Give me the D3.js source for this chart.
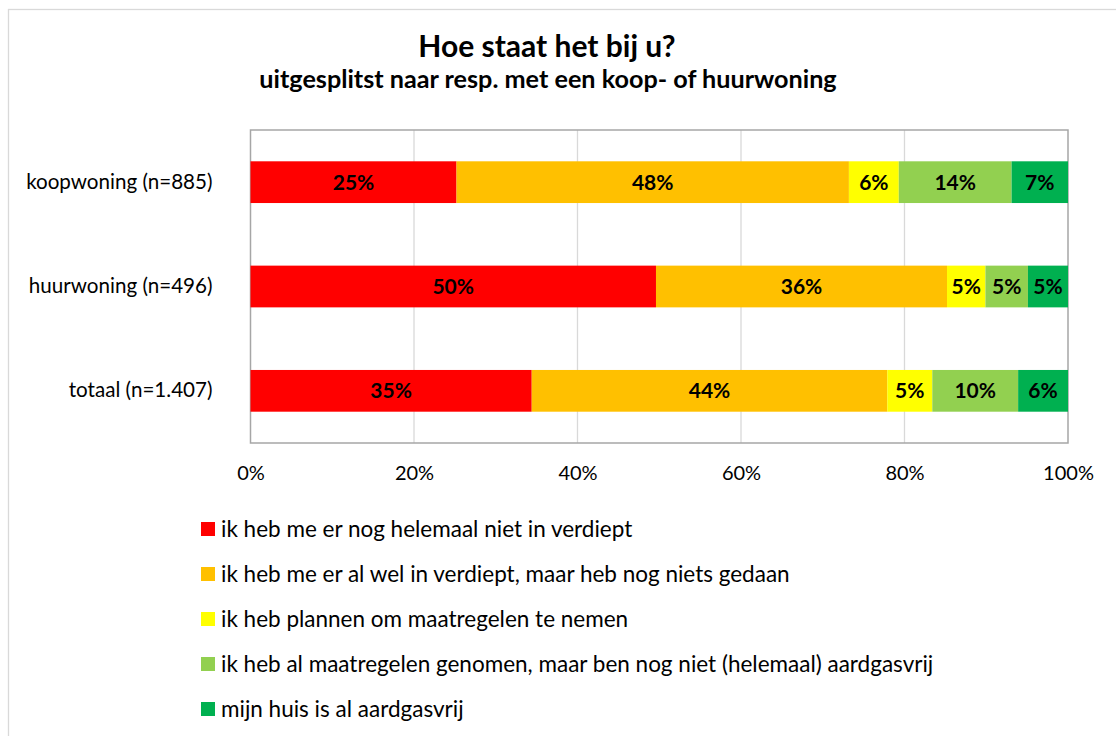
<!DOCTYPE html>
<html>
<head>
<meta charset="utf-8">
<script src="https://cdn.jsdelivr.net/npm/d3@7"></script>
<style>
  body { margin: 0; background: #fff; }
  svg { display: block; font-family: Lato, "Open Sans", sans-serif; }
  .grid line { stroke: #d9d9d9; stroke-width: 1.3; }
  .tick text { fill: #000; }
</style>
</head>
<body>
<div id="chart"></div>
<script>
  "use strict";

  // Categories, top to bottom
  var categories = ['koopwoning (n=885)', 'huurwoning (n=496)', 'totaal (n=1.407)'];

  // Answer series (legend order)
  var seriesNames = [
    'ik heb me er nog helemaal niet in verdiept',
    'ik heb me er al wel in verdiept, maar heb nog niets gedaan',
    'ik heb plannen om maatregelen te nemen',
    'ik heb al maatregelen genomen, maar ben nog niet (helemaal) aardgasvrij',
    'mijn huis is al aardgasvrij'
  ];
  var seriesColors = ['#ff0000', '#ffc000', '#ffff00', '#92d050', '#00b050'];

  // Share per category (percent), one array per series
  var nietVerdiept = [25.2, 49.6, 34.4];
  var welVerdiept = [48.0, 35.6, 43.5];
  var plannen = [6.1, 4.7, 5.5];
  var maatregelen = [13.8, 5.2, 10.5];
  var aardgasvrij = [6.9, 4.9, 6.1];

  // Labels printed in the bars
  var labelNietVerdiept = ['25%', '50%', '35%'];
  var labelWelVerdiept = ['48%', '36%', '44%'];
  var labelPlannen = ['6%', '5%', '5%'];
  var labelMaatregelen = ['14%', '5%', '10%'];
  var labelAardgasvrij = ['7%', '5%', '6%'];

  var xTicks = [0, 20, 40, 60, 80, 100];

  var seriesValues = [nietVerdiept, welVerdiept, plannen, maatregelen, aardgasvrij];
  var seriesLabels = [labelNietVerdiept, labelWelVerdiept, labelPlannen, labelMaatregelen, labelAardgasvrij];

  var width = 1116, height = 736;
  var plot = { left: 250.5, right: 1068, top: 130, bottom: 443 };

  var svg = d3.select('#chart')
      .append('svg')
      .attr('width', width)
      .attr('height', height);

  // Outer chart border (only top and left visible in frame)
  svg.append('rect')
      .attr('x', 8.5)
      .attr('y', 9.5)
      .attr('width', width + 20)
      .attr('height', height + 20)
      .attr('fill', 'none')
      .attr('stroke', '#d9d9d9')
      .attr('stroke-width', 1.3);

  // Titles
  svg.append('text')
      .attr('x', 547)
      .attr('y', 57)
      .attr('text-anchor', 'middle')
      .attr('font-weight', 'bold')
      .attr('font-size', 30)
      .text('Hoe staat het bij u?');

  svg.append('text')
      .attr('x', 548)
      .attr('y', 88)
      .attr('text-anchor', 'middle')
      .attr('font-weight', 'bold')
      .attr('font-size', 25.2)
      .text('uitgesplitst naar resp. met een koop- of huurwoning');

  var x = d3.scaleLinear()
      .domain([0, 100])
      .range([plot.left, plot.right]);

  var y = d3.scaleBand()
      .domain(categories)
      .range([plot.top, plot.bottom])
      .paddingInner(0.6)
      .paddingOuter(0.3);

  // Vertical gridlines
  svg.append('g')
      .attr('class', 'grid')
      .selectAll('line')
      .data(xTicks.slice(1, -1))
      .enter()
      .append('line')
      .attr('x1', function(d) { return x(d); })
      .attr('x2', function(d) { return x(d); })
      .attr('y1', plot.top)
      .attr('y2', plot.bottom);

  // Plot area border
  svg.append('rect')
      .attr('x', plot.left)
      .attr('y', plot.top)
      .attr('width', plot.right - plot.left)
      .attr('height', plot.bottom - plot.top)
      .attr('fill', 'none')
      .attr('stroke', '#a6a6a6')
      .attr('stroke-width', 1.5);

  // Stack the series
  var rows = categories.map(function(c, i) {
    var row = { category: c };
    seriesNames.forEach(function(s, j) { row[s] = seriesValues[j][i]; });
    return row;
  });
  var stacked = d3.stack().keys(seriesNames)(rows);

  var layers = svg.append('g')
      .selectAll('g')
      .data(stacked)
      .enter()
      .append('g')
      .attr('fill', function(d, j) { return seriesColors[j]; });

  layers.selectAll('rect')
      .data(function(d) { return d; })
      .enter()
      .append('rect')
      .attr('x', function(d) { return x(d[0]); })
      .attr('y', function(d) { return y(d.data.category); })
      .attr('width', function(d) { return x(d[1]) - x(d[0]); })
      .attr('height', y.bandwidth());

  layers.selectAll('text')
      .data(function(d, j) {
        return d.map(function(p, i) { return { p: p, label: seriesLabels[j][i] }; });
      })
      .enter()
      .append('text')
      .attr('x', function(d) { return (x(d.p[0]) + x(d.p[1])) / 2; })
      .attr('y', function(d) { return y(d.p.data.category) + y.bandwidth() / 2; })
      .attr('dy', '0.36em')
      .attr('text-anchor', 'middle')
      .attr('font-weight', 'bold')
      .attr('font-size', 21)
      .attr('fill', '#000')
      .text(function(d) { return d.label; });

  // Category axis
  var yAxis = svg.append('g')
      .attr('transform', 'translate(' + plot.left + ',0)')
      .call(d3.axisLeft(y).tickSize(0).tickPadding(38));
  yAxis.select('.domain').remove();
  yAxis.selectAll('text').attr('font-size', 20.6);
  yAxis.attr('font-family', null);

  // Percent axis
  var xAxis = svg.append('g')
      .attr('transform', 'translate(0,' + plot.bottom + ')')
      .call(d3.axisBottom(x).tickValues(xTicks).tickSize(0).tickPadding(23)
        .tickFormat(function(d) { return d + '%'; }));
  xAxis.select('.domain').remove();
  xAxis.selectAll('text').attr('font-size', 20);
  xAxis.attr('font-family', null);

  // Legend
  var legend = svg.append('g')
      .selectAll('g')
      .data(seriesNames)
      .enter()
      .append('g')
      .attr('transform', function(d, j) { return 'translate(201,' + (529 + j * 45) + ')'; });

  legend.append('rect')
      .attr('x', 0)
      .attr('y', -7)
      .attr('width', 14)
      .attr('height', 14)
      .attr('fill', function(d, j) { return seriesColors[j]; });

  legend.append('text')
      .attr('x', 20)
      .attr('dy', '0.36em')
      .attr('font-size', 22.5)
      .text(function(d) { return d; });
</script>
</body>
</html>
